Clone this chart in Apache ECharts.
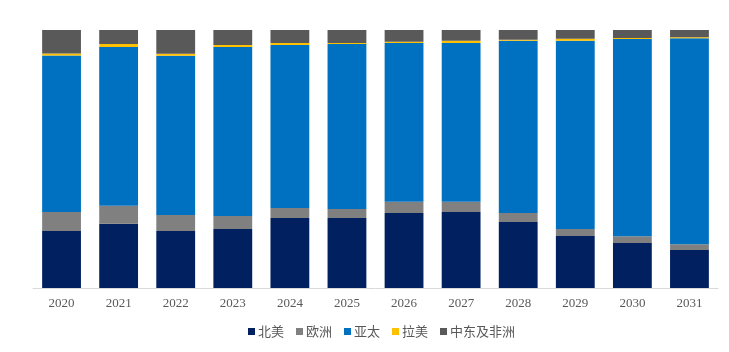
<!DOCTYPE html>
<html>
<head>
<meta charset="utf-8">
<script src="https://cdn.jsdelivr.net/npm/echarts@6/dist/echarts.min.js"></script>
<style>
  html, body { margin: 0; padding: 0; background: #fff; }
  #chart { width: 729px; height: 352px; }
</style>
</head>
<body>
<div id="chart"></div>
<script>
// 年份
const years = ['2020', '2021', '2022', '2023', '2024', '2025', '2026', '2027', '2028', '2029', '2030', '2031'];

// 各地区占比 (%)
const northAmerica = [22.1, 24.9, 22.1, 22.9, 27.1, 27.1, 29.1, 29.5, 25.6, 20.2, 17.4, 14.7];
const europe = [7.4, 7.0, 6.2, 5.0, 3.9, 3.5, 4.3, 3.9, 3.5, 2.7, 2.7, 2.3];
const asiaPacific = [60.6, 61.5, 61.7, 65.5, 63.2, 64.0, 61.6, 61.6, 66.7, 72.9, 76.4, 79.8];
const latinAmerica = [0.8, 1.2, 0.8, 0.8, 0.8, 0.4, 0.4, 0.8, 0.4, 0.8, 0.4, 0.4];
const meaAfrica = [9.1, 5.4, 9.2, 5.8, 5.0, 5.0, 4.6, 4.2, 3.8, 3.4, 3.1, 2.8];

const seriesDefs = [
  { name: '北美', data: northAmerica, color: '#002060' },
  { name: '欧洲', data: europe, color: '#808080' },
  { name: '亚太', data: asiaPacific, color: '#0070C0' },
  { name: '拉美', data: latinAmerica, color: '#FFC000' },
  { name: '中东及非洲', data: meaAfrica, color: '#595959' },
];

const chart = echarts.init(document.getElementById('chart'));

const option = {
  backgroundColor: '#ffffff',
  animation: false,
  grid: {
    left: 33,
    right: 11,
    top: 30,
    bottom: 64,
  },
  legend: {
    bottom: 9,
    left: 243,
    itemWidth: 7,
    itemHeight: 7,
    itemGap: 12,
    icon: 'rect',
    textStyle: {
      color: '#595959',
      fontSize: 13,
      fontFamily: 'Noto Sans CJK SC',
      padding: [0, 0, 0, -2],
    },
    data: seriesDefs.map(s => s.name),
  },
  xAxis: {
    type: 'category',
    data: years,
    axisLine: { lineStyle: { color: '#D9D9D9' } },
    axisTick: { show: false },
    axisLabel: {
      color: '#595959',
      fontSize: 13,
      fontFamily: 'Liberation Serif',
      margin: 9,
    },
  },
  yAxis: {
    type: 'value',
    min: 0,
    max: 100,
    show: false,
    splitLine: { show: false },
  },
  series: seriesDefs.map(s => ({
    name: s.name,
    type: 'bar',
    stack: 'total',
    barCategoryGap: '32%',
    data: s.data,
    itemStyle: { color: s.color },
  })),
};

chart.setOption(option);
</script>
</body>
</html>
